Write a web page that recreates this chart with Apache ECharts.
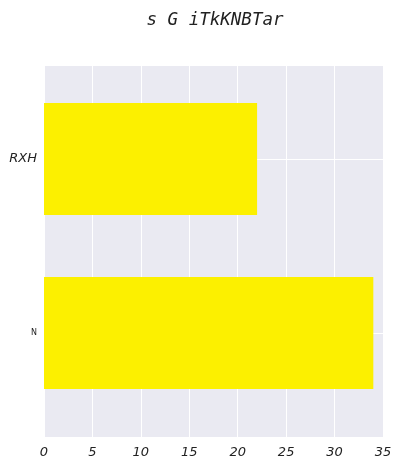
<!DOCTYPE html>
<html><head><meta charset="utf-8">
<script src="https://cdn.jsdelivr.net/npm/echarts@6/dist/echarts.min.js"></script>
<style>html,body{margin:0;padding:0;background:#fff}#c{width:402px;height:469px}</style>
</head><body><div id="c"></div>
<script>
const categories = ['N', 'RXH'];
const values = [34, 22];
const xTicks = [0, 5, 10, 15, 20, 25, 30, 35];
const title = 's G iTkKNBTar';

const chart = echarts.init(document.getElementById('c'), null, {renderer: 'canvas'});
const xMin = xTicks[0], xMax = xTicks[xTicks.length - 1];
chart.setOption({
  backgroundColor: '#ffffff',
  animation: false,
  title: {
    text: title, left: 210, textAlign: 'center', top: 6,
    textStyle: {fontFamily: 'DejaVu Sans Mono', fontStyle: 'italic', fontWeight: 'normal', fontSize: 17.5, color: '#222'}
  },
  grid: [
    {left: 44, right: 19, top: 66, bottom: 32, show: true, backgroundColor: '#eaeaf2', borderWidth: 0, z: 0},
    {left: 44, right: 19, top: 72, bottom: 49, show: false}
  ],
  xAxis: [
    {
      gridIndex: 0, type: 'value', min: xMin, max: xMax, interval: 5,
      axisLine: {show: false}, axisTick: {show: false},
      splitLine: {show: true, lineStyle: {color: '#ffffff', width: 1}},
      axisLabel: {fontFamily: 'DejaVu Sans', fontStyle: 'italic', fontSize: 13, color: '#222', margin: 9}
    },
    {
      gridIndex: 1, type: 'value', min: xMin, max: xMax, interval: 5,
      show: false
    }
  ],
  yAxis: [
    {gridIndex: 0, type: 'value', show: false, min: 0, max: 1},
    {
      gridIndex: 1, type: 'category', data: categories,
      axisLine: {show: false},
      axisTick: {show: true, alignWithLabel: true, inside: true, length: 339, lineStyle: {color: '#ffffff', width: 1}},
      splitLine: {show: false},
      axisLabel: {
        margin: 7, color: '#222',
        formatter: function (v) { return v === 'RXH' ? '{a|' + v + '}' : '{b|' + v + '}'; },
        rich: {
          a: {fontFamily: 'DejaVu Sans', fontStyle: 'italic', fontSize: 13, color: '#222'},
          b: {fontFamily: 'DejaVu Sans', fontSize: 8, color: '#222'}
        }
      }
    }
  ],
  series: [
    {type: 'bar', xAxisIndex: 1, yAxisIndex: 1, data: values, barWidth: 112, itemStyle: {color: '#fcf000'}, z: 5}
  ]
});
</script></body></html>
